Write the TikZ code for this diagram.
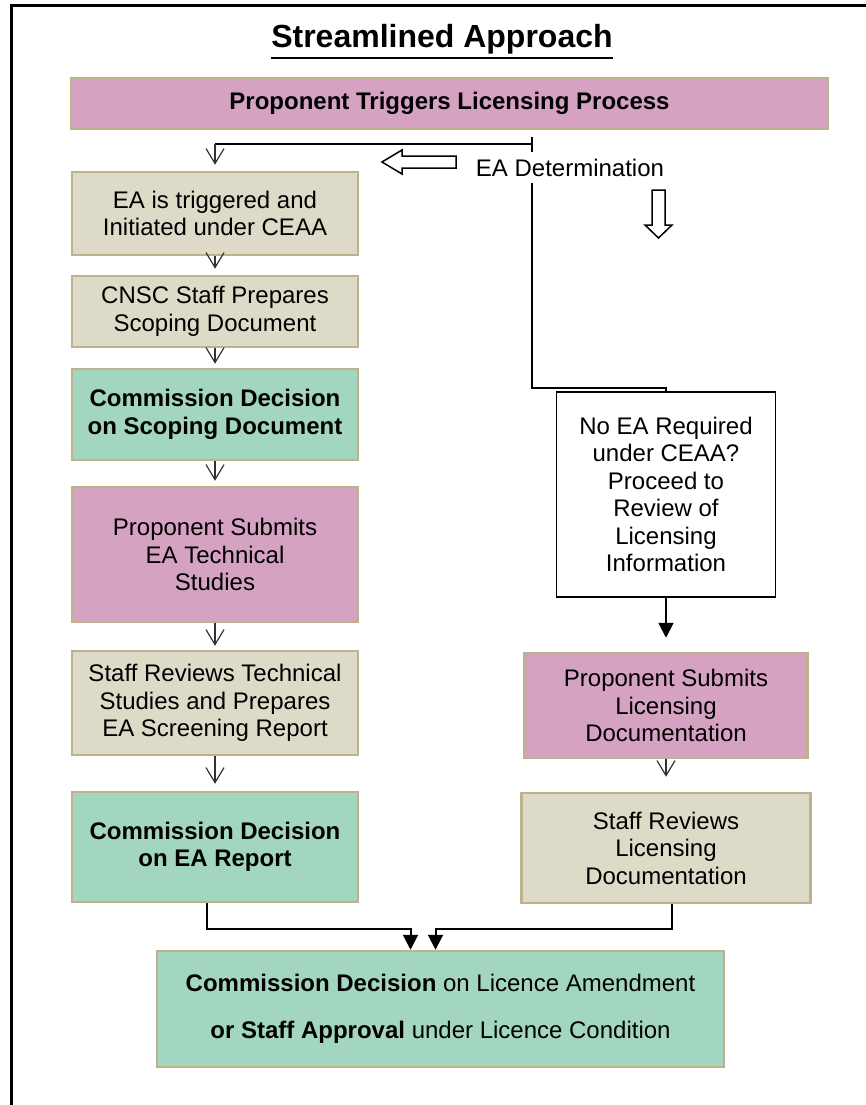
\documentclass[tikz,border=0pt]{standalone}
\usepackage{fontspec}
\setmainfont{Liberation Sans}
\usepackage{xcolor}
\usepackage{tikz}
\usetikzlibrary{arrows.meta}
\definecolor{pinkfill}{RGB}{214,162,194}
\definecolor{tanfill}{RGB}{222,218,200}
\definecolor{greenfill}{RGB}{163,214,192}
\definecolor{boxedge}{RGB}{190,178,140}
\definecolor{barbgray}{RGB}{50,50,50}

\begin{document}
\begin{tikzpicture}[x=1pt, y=-1pt,
	stage/.style={draw=boxedge, line width=2.5pt, align=center, inner sep=0pt, font=\fontsize{24}{27.5}\selectfont},
	tanbox/.style={stage, fill=tanfill},
	pinkbox/.style={stage, fill=pinkfill},
	greenbox/.style={stage, fill=greenfill, font=\fontsize{24}{27.5}\selectfont\bfseries},
	plainbox/.style={stage, draw=black, line width=1.5pt, fill=white},
	link/.style={line width=2pt},
	vflow/.style={draw=barbgray, line width=1.2pt, -{Straight Barb[length=15pt, width=18pt]}},
	solidflow/.style={line width=2pt, -{Triangle[length=15pt, width=15pt]}},
	fatarrow/.style={draw, line width=1.5pt, fill=white, line join=miter}
]
\useasboundingbox (0,0) rectangle (866,1105);
\draw[line width=3pt] (11,1105) -- (11,6) -- (866,6);

\node[font=\fontsize{32}{38}\selectfont\bfseries, inner sep=0pt, anchor=base] (title) at (442,48) {Streamlined Approach};
\draw[line width=2.5pt] ([yshift=-10pt]title.base west) -- ([yshift=-10pt]title.base east);

\node[pinkbox, font=\fontsize{24}{27.5}\selectfont\bfseries, minimum width=757, minimum height=51] (trigger) at (449.5,103.5) {Proponent Triggers Licensing Process};

% left column
\node[tanbox, minimum width=286, minimum height=83] (eatrig) at (215,213.5) {EA is triggered and\\Initiated under CEAA};
\node[tanbox, minimum width=286, minimum height=71] (scoping) at (215,311.5) {CNSC Staff Prepares\\Scoping Document};
\node[greenbox, minimum width=286, minimum height=91] (decscope) at (215,414.5) {Commission Decision\\on Scoping Document};
\node[pinkbox, minimum width=286, minimum height=135] (submitea) at (215,554.5) {Proponent Submits\\EA Technical\\Studies};
\node[tanbox, minimum width=286, minimum height=104] (screening) at (215,703) {Staff Reviews Technical\\Studies and Prepares\\EA Screening Report};
\node[greenbox, minimum width=286, minimum height=110] (eareport) at (215,847) {Commission Decision\\on EA Report};

% right column
\node[plainbox, minimum width=219, minimum height=205] (noea) at (666,494.5) {No EA Required\\under CEAA?\\Proceed to\\Review of\\Licensing\\Information};
\node[pinkbox, minimum width=283, minimum height=105] (licsub) at (666,705.5) {Proponent Submits\\Licensing\\Documentation};
\node[tanbox, minimum width=289, minimum height=110] (licrev) at (666,848) {Staff Reviews\\Licensing\\Documentation};

\node[stage, fill=greenfill, minimum width=567, minimum height=116] (final) at (440.5,1009) {\textbf{Commission Decision} on Licence Amendment\\[19.5pt]\textbf{or Staff Approval} under Licence Condition};

% EA determination split
\coordinate (tick) at (532,137);
\coordinate (split) at (532,144);
\coordinate (bend) at (532,388);
\draw[link] (tick) -- (bend) -| (noea.north);
\draw[link] (split) -- (split -| eatrig.north);
\draw[vflow] (split -| eatrig.north) -- ([yshift=6pt]eatrig.north);
\node[fill=white, inner xsep=2pt, inner ysep=7pt, anchor=base, font=\fontsize{24}{27.5}\selectfont] (eadet) at (570,176) {EA Determination};

\draw[fatarrow] (456,156) -- (402,156) -- (402,150) -- (382,162) -- (402,174) -- (402,168) -- (456,168) -- cycle;
\draw[fatarrow] (652,190) -- (665,190) -- (665,225) -- (672,225) -- (658.5,238) -- (645,225) -- (652,225) -- cycle;

\draw[vflow] (eatrig.south) -- ([yshift=6pt]scoping.north);
\draw[vflow] (scoping.south) -- ([yshift=4pt]decscope.north);
\draw[vflow] (decscope.south) -- ([yshift=5pt]submitea.north);
\draw[vflow] (submitea.south) -- ([yshift=4pt]screening.north);
\draw[vflow] (screening.south) -- ([yshift=7pt]eareport.north);
\draw[vflow] (licsub.south) -- ([yshift=15pt]licrev.north);

\draw[solidflow] (noea.south) -- ([yshift=14pt]licsub.north);
\draw[solidflow] ([xshift=-8pt]eareport.south) -- ++(0,26) -| ([xshift=-30pt]final.north);
\draw[solidflow] ([xshift=6pt]licrev.south) -- ++(0,25) -| ([xshift=-5pt]final.north);
\end{tikzpicture}
\end{document}
